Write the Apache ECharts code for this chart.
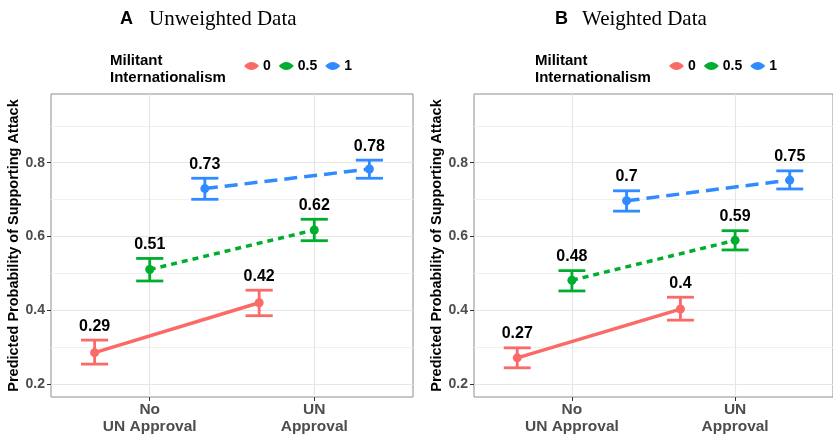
<!DOCTYPE html>
<html><head><meta charset="utf-8">
<script src="https://cdn.jsdelivr.net/npm/echarts@6/dist/echarts.min.js"></script>
<style>html,body{margin:0;padding:0;background:#fff}#c{width:833px;height:438px}</style>
</head><body><div id="c"></div>
<script>
// ---- data ----
const categories = ['No\nUN Approval', 'UN\nApproval'];
const groups = ['0', '0.5', '1'];
const panelTitles = [['A', 'Unweighted Data'], ['B', 'Weighted Data']];
const legendTitle = 'Militant\nInternationalism';
const yAxisTitle = 'Predicted Probability of Supporting Attack';
const yTicks = [0.2, 0.4, 0.6, 0.8];
const yMinorTicks = [0.3, 0.5, 0.7, 0.9];

// Panel A: unweighted (rows = groups 0, 0.5, 1; columns = No UN / UN)
const unweightedEstimate = [[0.286, 0.421], [0.511, 0.618], [0.730, 0.783]];
const unweightedLower    = [[0.255, 0.386], [0.480, 0.589], [0.701, 0.758]];
const unweightedUpper    = [[0.320, 0.455], [0.541, 0.647], [0.758, 0.807]];
// Panel B: weighted
const weightedEstimate = [[0.272, 0.404], [0.482, 0.590], [0.697, 0.753]];
const weightedLower    = [[0.245, 0.374], [0.453, 0.564], [0.669, 0.729]];
const weightedUpper    = [[0.299, 0.436], [0.508, 0.616], [0.724, 0.778]];

// ---- styling ----
const colors = ['#FA6A66', '#00AE2E', '#2F8BFF'];
const dashes = ['solid', [6, 5], [13, 7]];
const dodge = 0.335;
const capWidth = 0.165;

const panels = [
  {est: unweightedEstimate, lo: unweightedLower, hi: unweightedUpper, left: 51, legendLeft: 244, legTitleLeft: 110, titleA: 120, titleB: 149},
  {est: weightedEstimate, lo: weightedLower, hi: weightedUpper, left: 474, legendLeft: 669, legTitleLeft: 535, titleA: 555, titleB: 582}
];

const fmt = v => String(Math.round(v * 100) / 100);

const grid = [], xAxis = [], yAxis = [], series = [], legend = [], graphic = [];
panels.forEach((p, pi) => {
  grid.push({left: p.left, top: 94, width: 362, height: 303, show: true, borderColor: '#8E8E8E', borderWidth: 1, backgroundColor: 'transparent'});
  xAxis.push({
    type: 'value', gridIndex: pi, min: 0.4, max: 2.6,
    axisLine: {show: false},
    axisTick: {show: true, customValues: [1, 2], length: 4, lineStyle: {color: '#333'}},
    axisLabel: {customValues: [1, 2], formatter: v => categories[Math.round(v) - 1] || '', margin: 4,
      fontFamily: 'Liberation Sans, Arial', fontWeight: 'bold', fontSize: 15.5, lineHeight: 17, color: '#4D4D4D'},
    splitLine: {show: true, lineStyle: {color: '#E6E6E6', width: 1.2}}
  });
  yAxis.push({
    type: 'value', gridIndex: pi, min: 0.166, max: 0.986,
    name: yAxisTitle, nameLocation: 'middle', nameRotate: 90, nameGap: 30,
    nameTextStyle: {fontFamily: 'Liberation Sans, Arial', fontWeight: 'bold', fontSize: 14.5, color: '#000'},
    axisLine: {show: false},
    axisTick: {show: true, customValues: yTicks, length: 4, lineStyle: {color: '#333'}},
    axisLabel: {customValues: yTicks, formatter: v => v.toFixed(1), margin: 6,
      fontFamily: 'Liberation Sans, Arial', fontWeight: 'bold', fontSize: 14, color: '#4D4D4D'},
    splitLine: {show: true, lineStyle: {color: '#E6E6E6', width: 1.2}}
  });
  yAxis.push({
    type: 'value', gridIndex: pi, min: 0.166, max: 0.986, position: 'left',
    axisLine: {show: false},
    axisTick: {show: false, customValues: yMinorTicks},
    axisLabel: {show: false, customValues: yMinorTicks},
    splitLine: {show: true, lineStyle: {color: '#F0F0F0', width: 1}}
  });

  groups.forEach((g, gi) => {
    const off = (gi - 1) * dodge;
    const xs = categories.map((c, ci) => ci + 1 + off);
    series.push({
      name: g, type: 'line', xAxisIndex: pi, yAxisIndex: pi * 2, z: 3, silent: true,
      data: xs.map((x, ci) => [x, p.est[gi][ci]]),
      symbol: 'circle', symbolSize: 9, showSymbol: true,
      itemStyle: {color: colors[gi]},
      lineStyle: {color: colors[gi], width: 3.5, type: dashes[gi]}
    });
    series.push({
      name: g, type: 'custom', xAxisIndex: pi, yAxisIndex: pi * 2, z: 2, silent: true,
      itemStyle: {color: colors[gi]},
      data: xs.map((x, ci) => [x, p.lo[gi][ci], p.hi[gi][ci], p.est[gi][ci]]),
      renderItem: (params, api) => {
        const x = api.value(0);
        const lo = api.coord([x, api.value(1)]);
        const hi = api.coord([x, api.value(2)]);
        const hw = api.size([capWidth, 0])[0] / 2;
        const st = {stroke: colors[gi], lineWidth: 2.8};
        return {type: 'group', children: [
          {type: 'line', shape: {x1: lo[0], y1: lo[1], x2: hi[0], y2: hi[1]}, style: st},
          {type: 'line', shape: {x1: lo[0] - hw, y1: lo[1], x2: lo[0] + hw, y2: lo[1]}, style: st},
          {type: 'line', shape: {x1: hi[0] - hw, y1: hi[1], x2: hi[0] + hw, y2: hi[1]}, style: st},
          {type: 'text', x: hi[0], y: hi[1] - 14, style: {text: fmt(api.value(3)), align: 'center', verticalAlign: 'middle',
            fontFamily: 'Liberation Sans, Arial', fontWeight: 'bold', fontSize: 16, fill: '#000'}}
        ]};
      }
    });
  });

  legend.push({
    left: p.legendLeft, top: 59, padding: 0, itemGap: 8, itemWidth: 15, itemHeight: 9,
    icon: 'path://M0,5 Q7.5,-3 15,5 Q7.5,13 0,5 Z',
    data: groups.map((g, gi) => ({name: g, itemStyle: {color: colors[gi]}})), selectedMode: false,
    textStyle: {fontFamily: 'Liberation Sans, Arial', fontWeight: 'bold', fontSize: 14, color: '#000', padding: [0, 0, 0, -1]}
  });
  graphic.push({type: 'text', left: p.legTitleLeft, top: 53, style: {text: legendTitle, fontFamily: 'Liberation Sans, Arial', fontWeight: 'bold', fontSize: 15, lineHeight: 16.5, fill: '#000'}});
  graphic.push({type: 'text', x: p.titleA, y: 19, style: {text: panelTitles[pi][0], verticalAlign: 'middle', fontFamily: 'Liberation Sans, Arial', fontWeight: 'bold', fontSize: 18, fill: '#000'}});
  graphic.push({type: 'text', x: p.titleB, y: 19, style: {text: panelTitles[pi][1], verticalAlign: 'middle', fontFamily: 'Liberation Serif, Times New Roman', fontSize: 21, fill: '#000'}});
});

const chart = echarts.init(document.getElementById('c'), null, {renderer: 'canvas'});
chart.setOption({backgroundColor: '#fff', animation: false, color: colors, grid, xAxis, yAxis, series, legend, graphic});
</script></body></html>
